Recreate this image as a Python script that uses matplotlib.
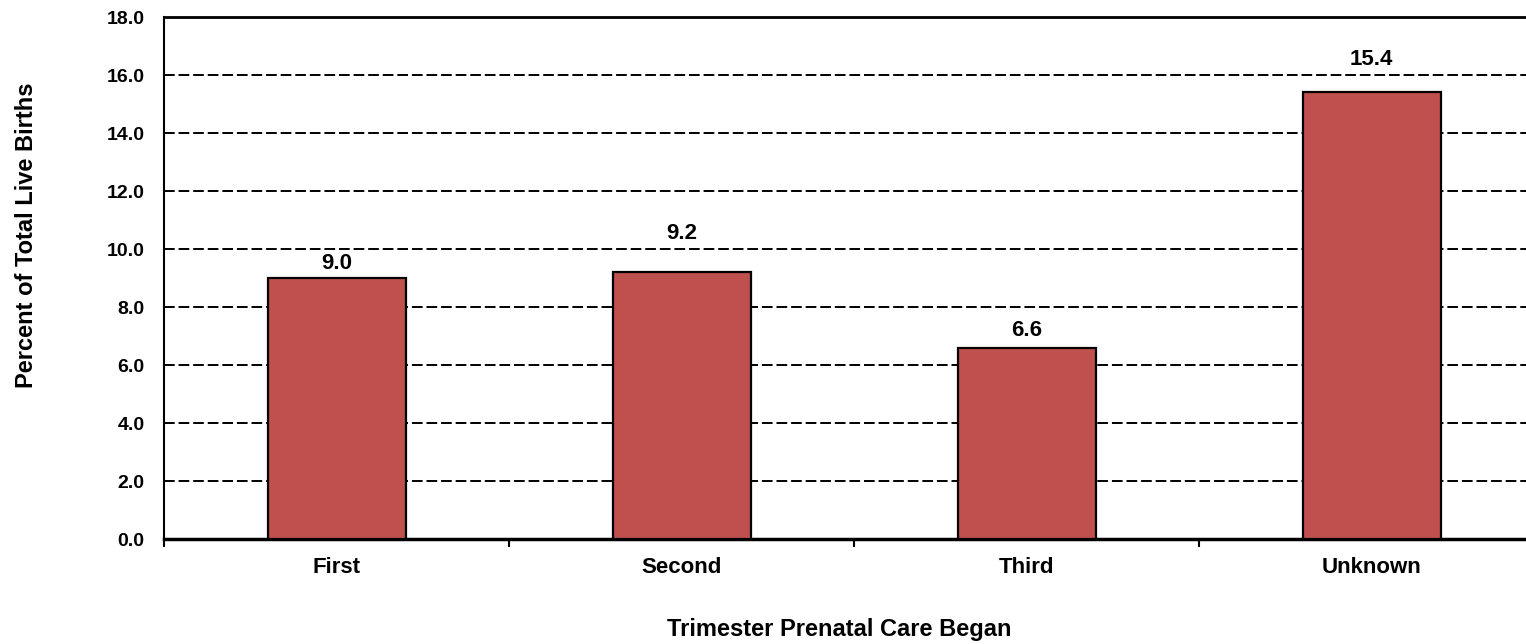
import numpy as np
import matplotlib.pyplot as plt
from matplotlib.ticker import FixedLocator, NullFormatter, FixedFormatter

plt.rcParams['font.family'] = ['Liberation Sans', 'DejaVu Sans']
plt.rcParams['font.weight'] = 'bold'

categories = ['First', 'Second', 'Third', 'Unknown']
percents = [9.0, 9.2, 6.6, 15.4]
yticks = np.arange(0, 18.1, 2.0)
label_lift = [3, 20, 5, 16]   # points above each bar, labels were nudged by hand

fig = plt.figure(figsize=(15.26, 6.44), dpi=100)
# axes runs a little past the right edge of the figure, as in the original
ax = fig.add_axes([0.1075, 0.163, 0.9044, 0.8106])

x = np.arange(len(categories))
ax.bar(x, percents, 0.4, color='#C0504D', edgecolor='black', linewidth=1.6, zorder=3)

for xi, v, lift in zip(x, percents, label_lift):
    ax.annotate('%.1f' % v, (xi, v), xytext=(0, lift), textcoords='offset points',
                ha='center', va='bottom', fontsize=16, fontweight='bold', zorder=4)

ax.set_xlim(-0.5, len(categories) - 0.5)
ax.set_ylim(0, 18)
ax.set_yticks(yticks)
ax.set_yticklabels(['%.1f' % t for t in yticks], fontsize=14, fontweight='bold')

# boundary ticks outward, category labels on inward ticks at bar centres
ax.xaxis.set_major_locator(FixedLocator(np.arange(-0.5, len(categories), 1.0)))
ax.xaxis.set_major_formatter(NullFormatter())
ax.xaxis.set_minor_locator(FixedLocator(x))
ax.xaxis.set_minor_formatter(FixedFormatter(categories))
ax.tick_params(axis='x', which='major', direction='out', length=6, width=1.5)
ax.tick_params(axis='x', which='minor', direction='in', length=4, width=1.5,
               labelsize=16, pad=13)
for lbl in ax.xaxis.get_minorticklabels():
    lbl.set_fontweight('bold')
ax.tick_params(axis='y', length=0, pad=14)

ax.yaxis.grid(True, linestyle=(0, (5.5, 2)), color='black', linewidth=1.4, zorder=0)
ax.spines['right'].set_visible(False)
ax.spines['top'].set_linewidth(2)
ax.spines['left'].set_linewidth(1.5)
ax.spines['bottom'].set_linewidth(2.5)
ax.set_axisbelow(True)

ax.set_ylabel('Percent of Total Live Births', fontsize=17, fontweight='bold')
ax.yaxis.set_label_coords(-0.0914, 0.582)
ax.set_xlabel('Trimester Prenatal Care Began', fontsize=17, fontweight='bold')
ax.xaxis.set_label_coords(0.489, -0.152)

fig.savefig('out.png', dpi=100)
